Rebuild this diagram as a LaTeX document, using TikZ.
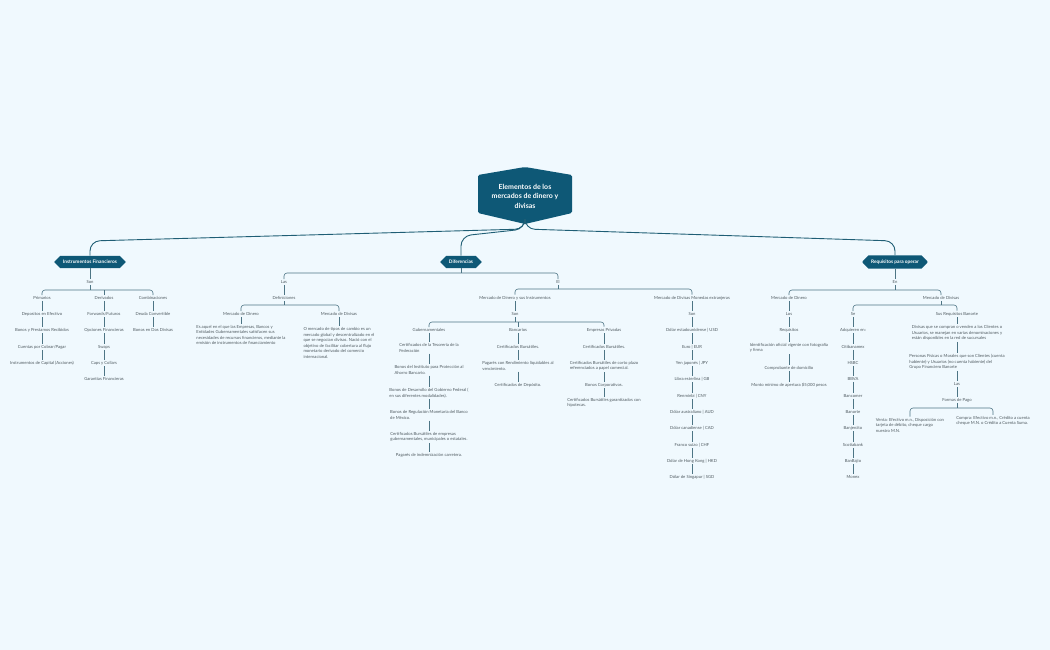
\documentclass[tikz,border=0pt]{standalone}
\usepackage{fontspec}
\setmainfont{Lato}
\usetikzlibrary{shapes.misc}
\definecolor{bg}{HTML}{F0F9FE}
\definecolor{dark}{HTML}{0E5876}
\definecolor{mainln}{HTML}{1F5E75}
\definecolor{subln}{HTML}{4D7585}
\definecolor{txt}{HTML}{4F5A60}
\tikzset{
 leaf/.style={align=left,inner sep=1.2pt,text=txt,font=\fontsize{4.2}{5.5}\selectfont},
 sub/.style={draw=subln,line width=0.6pt},
 mainc/.style={draw=mainln,line width=0.9pt,rounded corners=10pt},
 lvl/.style={chamfered rectangle,chamfered rectangle xsep=2.5pt,fill=dark,text=white,font=\fontsize{4.8}{5.5}\selectfont\bfseries,minimum height=12pt,inner xsep=6pt,inner ysep=1pt},
}
\newcommand\chain[3]{\coordinate (#1x) at (#2,0);
 \foreach \yy/\txt [count=\i] in {#3}{
  \node[leaf] (#1\i) at (#2,\yy) {\txt};
  \ifnum\i>1 \pgfmathtruncatemacro\prev{\i-1}\draw[sub] (#1\prev.south -| #1x) -- (#1\i.north -| #1x);\fi}}
\newcommand\fork[4]{\coordinate (bar) at (0,#2);
 \draw[sub] (#1.south) -- (#1.south |- bar);
 \draw[sub,rounded corners=3pt] (#3.north) -- (#3.north |- bar) -- (#4.north |- bar) -- (#4.north);}
\begin{document}
\begin{tikzpicture}[x=1pt,y=-1pt]
\fill[bg] (0,0) rectangle (1050,650);
\useasboundingbox (0,0) rectangle (1050,650);
% root
\node[minimum width=94pt,minimum height=46pt,inner sep=0pt] (root) at (525,196) {};
\fill[dark,rounded corners=1.5pt] (478,175) -- (525,167) -- (572,175) -- (572,213) -- (525,224) -- (478,213) -- cycle;
\node[align=center,text=white,font=\fontsize{7}{9.5}\selectfont\bfseries] (title) at (525,196) {Elementos de los\\mercados de dinero y\\divisas};
\coordinate (rb) at (525,224);
\coordinate (j) at (525,229);
% level 1
\node[lvl] (IF) at (90,262) {Instrumentos Financieros};
\node[lvl] (dif) at (461,262) {Diferencias};
\node[lvl] (req) at (895,262) {Requisitos para operar};
\coordinate (jl) at (0,241);
\coordinate (jm) at (0,236);
\draw[mainc] (rb) -- (j) -- (IF.north |- jl) -- (IF.north);
\draw[mainc] (rb) -- (j) -- (dif.north |- jm) -- (dif.north);
\draw[mainc] (rb) -- (j) -- (req.north |- jl) -- (req.north);
% Instrumentos Financieros
\chain{if}{90}{282/Son}
\draw[sub] (IF.south) -- (if1.north);
\chain{pr}{42}{298/Primarios,314/{Depositos en Efectivo},330/{Bonos y Prestamos Recibidos},347/{Cuentas por Cobrar/Pagar},363/{Instrumentos de Capital (Acciones)}}
\chain{de}{104}{298/Derivados,314/{Forwards/Futuros},330/{Opciones Financieras},347/Swaps,363/{Caps y Collars},379/{Garantias Financieras}}
\chain{co}{153}{298/Combinaciones,314/{Deuda Convertible},330/{Bonos en Dos Divisas}}
\fork{if1}{290}{pr1}{co1}
\draw[sub] (de1.north) -- (de1.north |- bar);
% Diferencias
\chain{la}{284}{282/Las,298/Definiciones}
\chain{el}{558}{282/El}
\fork{dif}{273}{la1}{el1}
\chain{mdd}{241}{314/{Mercado de Dinero},335/{Es aquel en el que las Empresas, Bancos y\\Entidades Gubernamentales satisfacen sus\\necesidades de recursos financieros, mediante la\\emisión de instrumentos de financiamiento}}
\chain{mdv}{339}{314/{Mercado de Divisas},343/{O mercado de tipos de cambio es un\\mercado global y descentralizado en el\\que se negocian divisas. Nació con el\\objetivo de facilitar cobertura al flujo\\monetario derivado del comercio\\internacional.}}
\fork{la2}{305}{mdd1}{mdv1}
\chain{mi}{515}{298/{Mercado de Dinero y sus Instrumentos},314/Son}
\chain{mm}{692}{298/{Mercado de Divisas Monedas extranjeras},314/Son,330/{Dólar estadounidense | USD},347/{Euro | EUR},363/{Yen japonés | JPY},379/{Libra esterlina | GB},396/{Renminbi | CNY},412/{Dólar australiano | AUD},428/{Dólar canadiense | CAD},445/{Franco suizo | CHF},461/{Dólar de Hong Kong | HKD},477/{Dólar de Singapur | SGD}}
\fork{el1}{289}{mi1}{mm1}
\chain{gu}{429}{330/Gubernamentales,348/{Certificados de la Tesorería de la\\Federación},370/{Bonos del Instituto para Protección al\\Ahorro Bancario.},393/{Bonos de Desarrollo del Gobierno Federal (\\en sus diferentes modalidades).},415/{Bonos de Regulación Monetaria del Banco\\de México.},437/{Certificados Bursátiles de empresas\\gubernamentales, municipales o estatales.},455/{Pagarés de indemnización carretera.}}
\chain{ba}{518}{330/Bancarios,347/{Certificados Bursátiles.},366/{Pagarés con Rendimiento liquidables al\\vencimiento.},385/{Certificados de Depósito.}}
\chain{ep}{604}{330/{Empresas Privadas},347/{Certificados Bursátiles.},366/{Certificados Bursátiles de corto plazo\\referenciados a papel comercial.},385/{Bonos Corporativos.},403/{Certificados Bursátiles garantizados con\\hipotecas.}}
\fork{mi2}{322}{gu1}{ep1}
\draw[sub] (ba1.north) -- (ba1.north |- bar);
% Requisitos
\chain{rq}{895}{282/En}
\draw[sub] (req.south) -- (rq1.north);
\chain{rd}{789}{298/{Mercado de Dinero},314/Los,330/Requisitos,348/{Identificación oficial vigente con fotografía\\y firma},368/{Comprobante de domicilio},385/{Monto mínimo de apertura \$5,000 pesos}}
\chain{rv}{941}{298/{Mercado de Divisas}}
\fork{rq1}{290}{rd1}{rv1}
\chain{se}{853}{314/Se,330/{Adquieren en:},347/Citibanamex,363/HSBC,379/BBVA,396/Bancomer,412/Banorte,428/Banjercito,445/Scotiabank,461/BanBajio,477/Monex}
\chain{sb}{957}{314/{Sus Requisitos Banorte},333/{Divisas que se compran o venden a los Clientes o\\Usuarios, se manejan en varias denominaciones y\\están disponibles en la red de sucursales},362/{Personas Físicas o Morales que son Clientes (cuenta\\habiente) y Usuarios (no cuenta habiente) del\\Grupo Financiero Banorte},384/Las,400/{Formas de Pago}}
\fork{rv1}{305}{se1}{sb1}
\node[leaf] (vt) at (910,425) {Venta: Efectivo m.n., Disposición con\\tarjeta de débito, cheque cargo\\nuestro M.N.};
\node[leaf] (cp) at (993,421) {Compra: Efectivo m.n., Crédito a cuenta\\cheque M.N. o Crédito a Cuenta Suma.};
\fork{sb5}{408}{vt}{cp}
\end{tikzpicture}
\end{document}
